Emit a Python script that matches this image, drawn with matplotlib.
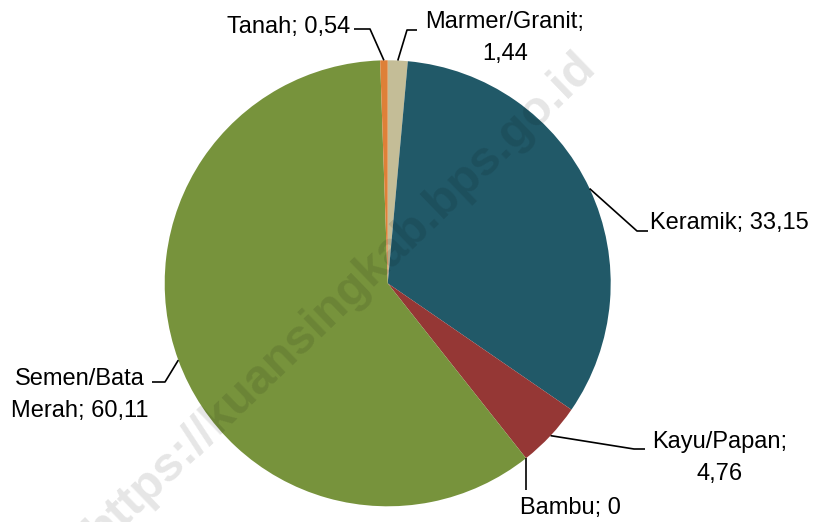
import numpy as np
import matplotlib.pyplot as plt

# Data
kategori = ["Marmer/Granit", "Keramik", "Kayu/Papan", "Bambu", "Semen/Bata Merah", "Tanah"]
label_teks = ["Marmer/Granit;\n1,44", "Keramik; 33,15", "Kayu/Papan;\n4,76", "Bambu; 0",
              "Semen/Bata\nMerah; 60,11", "Tanah; 0,54"]
nilai = [1.44, 33.15, 4.76, 0.0, 60.11, 0.54]
warna = ["#C4BD97", "#215968", "#953735", "#4F81BD", "#77933C", "#DE8038"]

W, H = 815, 522
CX, CY, R = 387.7, 283.3, 223.0


def px(x, y):
    # pixel (dari kiri atas) -> koordinat data
    return (x - CX) / R, (CY - y) / R


fig = plt.figure(figsize=(W / 100, H / 100), dpi=100)
ax = fig.add_axes([0, 0, 1, 1])
wedges, _ = ax.pie(nilai, colors=warna, startangle=90, counterclock=False,
                   radius=1, wedgeprops=dict(linewidth=0))
ax.set_xlim(px(0, 0)[0], px(W, 0)[0])
ax.set_ylim(px(0, H)[1], px(0, 0)[1])
ax.set_aspect("equal")
ax.axis("off")

# posisi label: (siku garis, ujung garis, posisi teks, ha)
layout = {
    "Marmer/Granit": ((407, 30), (417, 30), (505, 38), "center"),
    "Keramik": ((637, 231), (648, 231), (650, 223), "left"),
    "Kayu/Papan": ((634, 449), (645, 449), (720, 458), "center"),
    "Bambu": ((None, 490), None, (520, 508), "left"),
    "Semen/Bata Merah": ((165, 382), (152, 382), (80, 395), "center"),
    "Tanah": ((370, 29), (354, 29), (350, 27), "right"),
}

for w, kat, teks in zip(wedges, kategori, label_teks):
    ang = np.deg2rad((w.theta1 + w.theta2) / 2)
    ax0, ay0 = np.cos(ang), np.sin(ang)
    siku, ujung, pos, ha = layout[kat]
    if siku[0] is None:
        siku = (CX + ax0 * R, siku[1])
    xs = [ax0, px(*siku)[0]]
    ys = [ay0, px(*siku)[1]]
    if ujung is not None:
        xs.append(px(*ujung)[0])
        ys.append(px(*ujung)[1])
    ax.plot(xs, ys, color="black", lw=1.2, solid_capstyle="butt")
    tx, ty = px(*pos)
    ax.text(tx, ty, teks, ha=ha, va="center", fontsize=17,
            family="Liberation Sans", linespacing=1.6, multialignment="center")

# watermark
wx, wy = px(341, 299)
ax.text(wx, wy, "https://kuansingkab.bps.go.id", rotation=44, ha="center", va="center",
        fontsize=35, fontweight="bold", family="Liberation Sans",
        color="black", alpha=0.1, zorder=5)

plt.savefig("out.png", dpi=100)
